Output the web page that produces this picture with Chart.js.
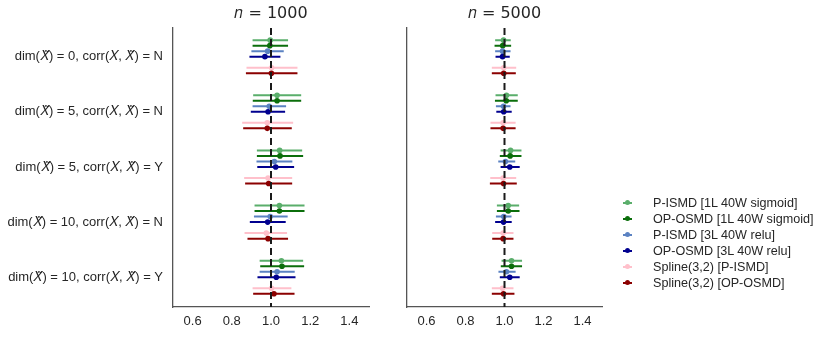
<!DOCTYPE html>
<html>
<head>
<meta charset="utf-8">
<script src="https://cdn.jsdelivr.net/npm/chart.js@4/dist/chart.umd.min.js"></script>
<style>
  body { margin: 0; background: #fff; }
  #wrap { position: relative; width: 831px; height: 337px; overflow: hidden; }
  canvas { position: absolute; top: 0; }
  #legend { position: absolute; left: 616px; top: 195px; font: 12.6px "Liberation Sans", Arial, sans-serif; color: #262626; }
  .row { position: relative; height: 16px; line-height: 16px; padding-left: 37px; white-space: nowrap; }
  .mk { position: absolute; left: 7px; top: 7px; width: 9px; height: 2px; }
  .dot { position: absolute; left: 9px; top: 5px; width: 5px; height: 5px; border-radius: 50%; }
</style>
</head>
<body>
<div id="wrap">
  <canvas id="c1000" width="380" height="337" style="left:0;width:380px;height:337px"></canvas>
  <canvas id="c5000" width="240" height="337" style="left:380px;width:240px;height:337px"></canvas>
  <div id="legend"></div>
</div>
<script>
const rowLabels = [
  'dim(\u{1D44B}\u0303) = 0, corr(\u{1D44B}, \u{1D44B}\u0303) = N',
  'dim(\u{1D44B}\u0303) = 5, corr(\u{1D44B}, \u{1D44B}\u0303) = N',
  'dim(\u{1D44B}\u0303) = 5, corr(\u{1D44B}, \u{1D44B}\u0303) = Y',
  'dim(\u{1D44B}\u0303) = 10, corr(\u{1D44B}, \u{1D44B}\u0303) = N',
  'dim(\u{1D44B}\u0303) = 10, corr(\u{1D44B}, \u{1D44B}\u0303) = Y'
];
const seriesNames = [
  'P-ISMD [1L 40W sigmoid]',
  'OP-OSMD [1L 40W sigmoid]',
  'P-ISMD [3L 40W relu]',
  'OP-OSMD [3L 40W relu]',
  'Spline(3,2) [P-ISMD]',
  'Spline(3,2) [OP-OSMD]'
];
const xTicks = [0.6, 0.8, 1.0, 1.2, 1.4];

// n = 1000, one row per series, one value per setting
const mean1000 = [
  [0.996, 1.031, 1.044, 1.043, 1.053],
  [0.994, 1.031, 1.046, 1.043, 1.056],
  [0.983, 0.991, 1.017, 0.996, 1.031],
  [0.969, 0.985, 1.024, 0.983, 1.027],
  [1.003, 0.981, 0.985, 0.976, 1.003],
  [1.002, 0.981, 0.988, 0.985, 1.015]
];
const low1000 = [
  [0.906, 0.909, 0.928, 0.916, 0.942],
  [0.906, 0.907, 0.928, 0.916, 0.945],
  [0.900, 0.906, 0.926, 0.913, 0.942],
  [0.890, 0.897, 0.930, 0.892, 0.931],
  [0.875, 0.853, 0.863, 0.865, 0.906],
  [0.872, 0.858, 0.868, 0.880, 0.909]
];
const high1000 = [
  [1.087, 1.154, 1.159, 1.171, 1.164],
  [1.087, 1.154, 1.164, 1.171, 1.169],
  [1.065, 1.077, 1.109, 1.085, 1.121],
  [1.048, 1.072, 1.118, 1.075, 1.125],
  [1.135, 1.113, 1.108, 1.082, 1.104],
  [1.135, 1.106, 1.108, 1.087, 1.120]
];

// n = 5000
const mean5000 = [
  [0.995, 1.010, 1.031, 1.019, 1.036],
  [0.991, 1.009, 1.029, 1.019, 1.036],
  [0.990, 0.995, 1.005, 0.996, 1.010],
  [0.990, 0.996, 1.027, 0.995, 1.027],
  [0.996, 0.993, 0.993, 0.993, 0.990],
  [0.996, 0.993, 0.995, 0.993, 0.995]
];
const low5000 = [
  [0.952, 0.954, 0.980, 0.961, 0.985],
  [0.949, 0.951, 0.976, 0.961, 0.981],
  [0.952, 0.956, 0.968, 0.956, 0.969],
  [0.954, 0.958, 0.980, 0.952, 0.976],
  [0.935, 0.928, 0.927, 0.937, 0.935],
  [0.935, 0.928, 0.925, 0.937, 0.935]
];
const high5000 = [
  [1.032, 1.068, 1.087, 1.075, 1.090],
  [1.034, 1.068, 1.087, 1.077, 1.090],
  [1.031, 1.031, 1.055, 1.036, 1.057],
  [1.027, 1.037, 1.078, 1.037, 1.078],
  [1.060, 1.057, 1.060, 1.046, 1.046],
  [1.058, 1.057, 1.063, 1.046, 1.051]
];

const colors = ['#5aae6b', '#0b6e0b', '#5b82c2', '#00008f', '#ffc0cb', '#8b0000'];
const rowShift = [-0.3, -0.2, -0.1, 0, 0.2, 0.3]; // place of each series inside a setting
const yMin = -0.52, yMax = 4.54;
const refLine = 1.0;

function buildDatasets(mean, low, high){
  var sets = [{
    data: [{x: refLine, y: yMin}, {x: refLine, y: yMax}],
    showLine: true,
    borderColor: '#1a1a1a',
    borderWidth: 2,
    borderDash: [7, 4],
    pointRadius: 0,
    order: 0
  }];
  for (let s = 0; s < mean.length; s++) {
    var bars = [], pts = [];
    for (let g = 0; g < rowLabels.length; g++) {
      var y = g + rowShift[s];
      bars.push({x: low[s][g], y: y}, {x: high[s][g], y: y}, {x: high[s][g], y: null});
      pts.push({x: mean[s][g], y: y});
    }
    sets.push({
      data: bars,
      showLine: true,
      spanGaps: false,
      borderColor: colors[s],
      borderWidth: 2,
      pointRadius: 0,
      order: 20 - 2 * s
    });
    sets.push({
      data: pts,
      backgroundColor: colors[s],
      borderWidth: 0,
      pointRadius: 2.8,
      order: 19 - 2 * s
    });
  }
  return sets;
}

function drawPanel(id_name, title, mean, low, high, yAxisWidth, padRight, showRows){
  var ctx = document.getElementById(id_name).getContext('2d');
  return new Chart(ctx, {
    type: 'scatter',
    data: { datasets: buildDatasets(mean, low, high) },
    options: {
      responsive: false,
      animation: false,
      events: [],
      layout: { padding: { left: 0, right: padRight, top: 0, bottom: 0 } },
      scales: {
        x: {
          type: 'linear',
          min: 0.5,
          max: 1.5,
          afterBuildTicks: (scale) => { scale.ticks = xTicks.map(v => ({value: v})); },
          afterFit: (scale) => { scale.height = 30; },
          grid: { display: false, drawTicks: false },
          border: { display: true, color: '#555', width: 1.3 },
          ticks: {
            padding: 7,
            color: '#262626',
            font: { family: '"Liberation Sans", Arial, sans-serif', size: 13 },
            maxRotation: 0,
            callback: (v) => v.toFixed(1)
          }
        },
        y: {
          type: 'linear',
          reverse: true,
          min: yMin,
          max: yMax,
          afterBuildTicks: (scale) => { scale.ticks = rowLabels.map((t, i) => ({value: i})); },
          afterFit: (scale) => { scale.width = yAxisWidth; },
          grid: { display: false, drawTicks: false },
          border: { display: true, color: '#555', width: 1.3 },
          ticks: {
            display: showRows,
            padding: 10,
            color: '#262626',
            font: { family: '"Liberation Sans", Arial, sans-serif', size: 13 },
            callback: (v) => rowLabels[v]
          }
        }
      },
      plugins: {
        legend: { display: false },
        tooltip: { enabled: false },
        title: {
          display: true,
          text: title,
          fullSize: false,
          color: '#262626',
          padding: { top: 5, bottom: 5 },
          font: { family: '"DejaVu Sans", sans-serif', size: 16, weight: 'normal', lineHeight: 1.125 }
        }
      }
    }
  });
}

drawPanel('c1000', '\u{1D45B} = 1000', mean1000, low1000, high1000, 173, 11, true);
drawPanel('c5000', '\u{1D45B} = 5000', mean5000, low5000, high5000, 27, 18, false);

var legend = document.getElementById('legend');
seriesNames.forEach(function(name, i){
  var row = document.createElement('div');
  row.className = 'row';
  row.innerHTML = '<span class="mk" style="background:' + colors[i] + '"></span>' +
                  '<span class="dot" style="background:' + colors[i] + '"></span>' + name;
  legend.appendChild(row);
});
</script>
</body>
</html>
